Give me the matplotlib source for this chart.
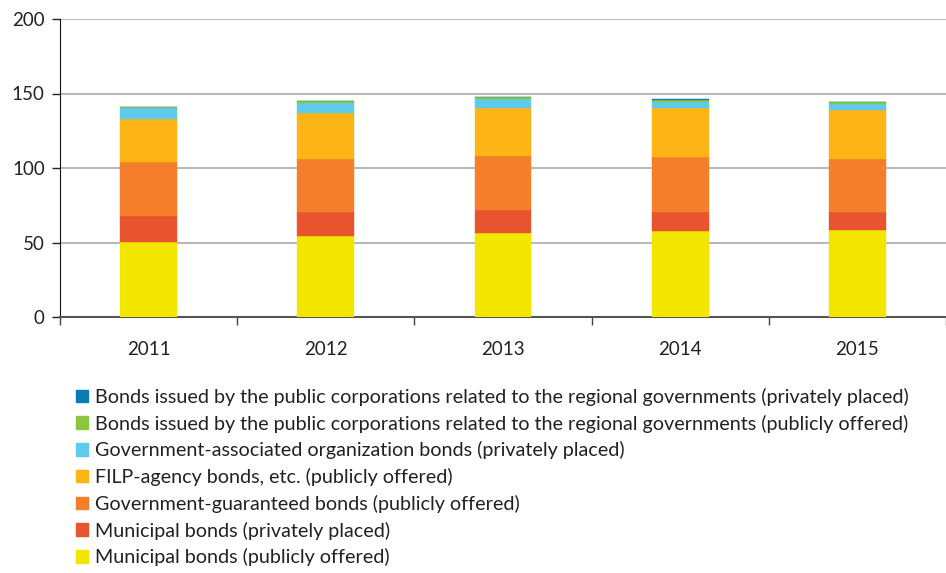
import numpy as np
import matplotlib
matplotlib.use("Agg")
import matplotlib.pyplot as plt
from matplotlib.patches import Patch

# ---------------------------------------------------------------------------
# Data (trillion yen)
# ---------------------------------------------------------------------------
years = ["2011", "2012", "2013", "2014", "2015"]

muni_public = [50.5, 54.2, 56.6, 57.7, 58.6]
muni_private = [17.5, 16.5, 15.0, 13.0, 12.1]
gov_guaranteed = [35.8, 35.6, 36.7, 36.9, 35.1]
filp_agency = [28.9, 30.6, 31.8, 32.9, 33.3]
gov_assoc_private = [7.6, 6.9, 6.4, 4.0, 3.9]
regional_public = [0.6, 1.0, 0.9, 0.9, 1.1]
regional_private = [0.3, 0.5, 0.4, 0.6, 0.2]

series = [
    ("Municipal bonds (publicly offered)", muni_public, "#f2e600"),
    ("Municipal bonds (privately placed)", muni_private, "#e8542e"),
    ("Government-guaranteed bonds (publicly offered)", gov_guaranteed, "#f47e2a"),
    ("FILP-agency bonds, etc. (publicly offered)", filp_agency, "#fdb415"),
    ("Government-associated organization bonds (privately placed)", gov_assoc_private, "#5ecbec"),
    ("Bonds issued by the public corporations related to the regional governments (publicly offered)",
     regional_public, "#8cc63f"),
    ("Bonds issued by the public corporations related to the regional governments (privately placed)",
     regional_private, "#0b7bb8"),
]

plt.rcParams["font.family"] = ["Lato", "DejaVu Sans"]

fig = plt.figure(figsize=(9.46, 5.73), dpi=100)
ax = fig.add_axes([60 / 946, 1 - 317 / 573, 886 / 946, 298 / 573])

x = np.arange(len(years))
bottom = np.zeros(len(years))
for label, vals, color in series:
    ax.bar(x, vals, width=0.32, bottom=bottom, color=color, label=label,
           edgecolor=color, linewidth=0.3, zorder=3)
    bottom += np.array(vals)

ax.set_ylim(0, 200)
ax.set_xlim(-0.5, len(years) - 0.5)
ax.set_yticks([0, 50, 100, 150, 200])
ax.set_xticks(x)
ax.set_xticklabels(years)
ax.set_xticks(np.arange(len(years) + 1) - 0.5, minor=True)
ax.yaxis.grid(True, color="#aaaaaa", lw=1.2, zorder=0)
ax.tick_params(axis="y", length=6, width=1, labelsize=13.5, colors="#222222", pad=5)
ax.tick_params(axis="x", which="major", length=0, labelsize=13.5, colors="#222222", pad=17)
ax.tick_params(axis="x", which="minor", length=6, width=1, color="#444444")

for s in ["top", "right"]:
    ax.spines[s].set_visible(False)
ax.spines["left"].set_color("#111111")
ax.spines["bottom"].set_color("#555555")
ax.spines["bottom"].set_linewidth(1.5)

# legend: top series first; squeezed a little so the last line stays on the canvas
handles = [Patch(facecolor=c, edgecolor=c, label=l) for l, _, c in series][::-1]
fig.legend(handles=handles, loc="upper left", bbox_to_anchor=(68 / 946, 1 - 380 / 573),
           frameon=False, fontsize=14.2, handlelength=0.6, handleheight=0.6,
           handletextpad=0.35, labelspacing=0.44, borderaxespad=0, labelcolor="#222222")

fig.savefig("out.png", dpi=100)
